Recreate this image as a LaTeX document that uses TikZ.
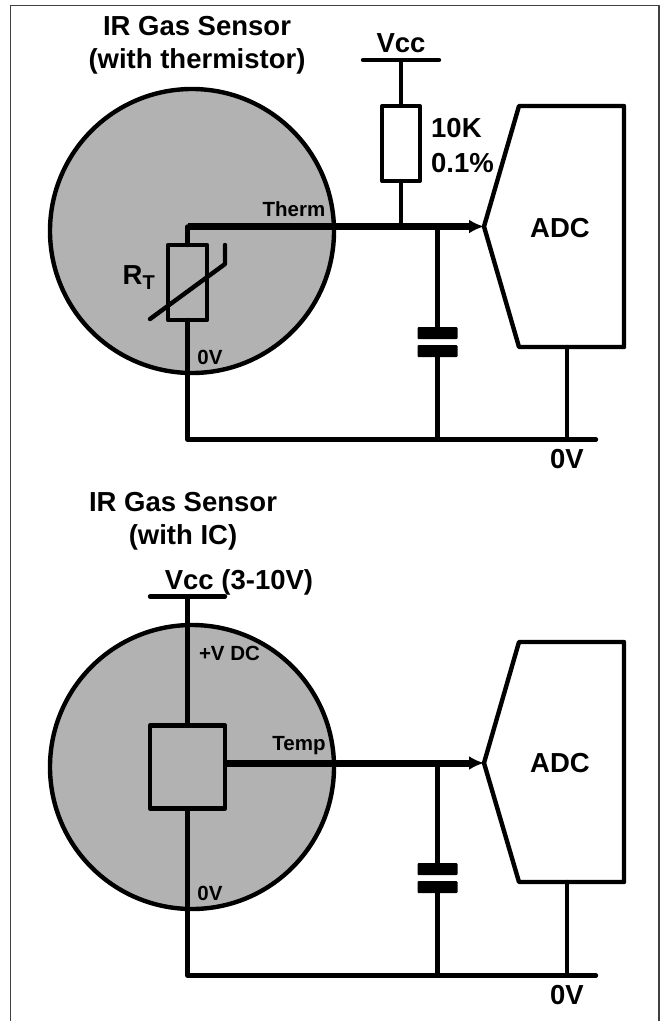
\documentclass[tikz,border=0pt]{standalone}
\usepackage{fontspec}
\setmainfont{Liberation Sans}
\usetikzlibrary{arrows.meta,positioning}

\definecolor{sensorgray}{HTML}{B2B2B2}

\begin{document}
\begin{tikzpicture}[x=1pt,y=-1pt,on grid,line width=4.4pt,line cap=round,line join=round,
    >={Latex[length=15pt,width=14pt]},
    sensor/.style={circle,draw,fill=sensorgray,minimum size=284pt,inner sep=0pt,outer sep=0pt},
    part/.style={rectangle,draw,inner sep=0pt,outer sep=0pt},
    plate/.style={rectangle,fill=black,rounded corners=1pt,minimum width=40pt,minimum height=12pt,inner sep=0pt,outer sep=0pt},
    big/.style={inner sep=0pt,font=\bfseries\fontsize{27.5}{33}\selectfont,align=center},
    small/.style={inner sep=0pt,font=\bfseries\fontsize{20.5}{24}\selectfont},
    signal/.style={line width=7pt,line cap=butt}]
  \useasboundingbox (0,0) rectangle (661,1021);

  \coordinate (frame_a) at (10.5,1021);
  \coordinate (frame_b) at (10.5,5.5);
  \coordinate (frame_c) at (659,5.5);
  \coordinate (frame_d) at (659,1021);
  \draw[line width=1.3pt,line cap=butt,color=black!75] (frame_a) -- (frame_b) -- (frame_c) -- (frame_d);

  \node[sensor] (S_1) at (192,231) {};
  \node[big] (title_1) at (197,45.5) {IR Gas Sensor\\(with thermistor)};
  \coordinate (vcc_1) at (401,60);
  \coordinate (vcc_1l) at (363,60);
  \coordinate (vcc_1r) at (439,60);
  \node[big] (vcclabel_1) at (401,43) {Vcc};
  \node[part,minimum width=37.5pt,minimum height=75pt] (R_1) at (401,143.5) {};
  \node[big,anchor=west] (ten_k) at (429,128) {10K};
  \node[big,anchor=west] (tol_k) at (429,163) {0.1\%};
  \node[part,minimum width=39pt,minimum height=75pt] (R_T) at (187.5,282.5) {};
  \coordinate (rt_a) at (150,319);
  \coordinate (rt_b) at (225,264);
  \coordinate (rt_c) at (225,245);
  \node[big,anchor=base east] (rtlabel) at (157,284.5) {R\raisebox{-5pt}{\fontsize{20}{20}\selectfont T}};
  \coordinate (adc_1a) at (519,106);
  \coordinate (adc_1b) at (624,106);
  \coordinate (adc_1c) at (624,347);
  \coordinate (adc_1d) at (519,347);
  \coordinate (tip_1) at (484,226.5);
  \node[big] (adclabel_1) at (560,228) {ADC};
  \node[small] (therm) at (294,209) {Therm};
  \node[small] (zero_1) at (210,357) {0V};
  \node[plate] (C_1a) at (437.5,333) {};
  \node[plate] (C_1b) [below=18pt of C_1a] {};
  \coordinate (rail_1l) at (187.5,439.5);
  \coordinate (rail_1r) at (596,439.5);
  \node[big] (gnd_1) at (567,459) {0V};

  \draw (vcc_1l) -- (vcc_1r);
  \draw (vcc_1) -- (R_1.north);
  \draw (R_1.south) -- (R_1 |- tip_1);
  \draw (R_T.north) -- (R_T |- tip_1);
  \draw (rt_a) -- (rt_b) -- (rt_c);
  \draw (adc_1a) -- (adc_1b) -- (adc_1c) -- (adc_1d) -- (tip_1) -- cycle;
  \draw[signal,->] (R_T |- tip_1) -- (tip_1);
  \draw (C_1a |- tip_1) -- (C_1a.north);
  \draw (C_1b.south) -- (C_1b |- rail_1l);
  \draw (R_T.south) -- (rail_1l) -- (rail_1r);
  \draw (gnd_1 |- adc_1c) -- (gnd_1 |- rail_1l);

  \node[sensor] (S_2) at (192,767) {};
  \node[big] (title_2) at (183,521.5) {IR Gas Sensor\\(with IC)};
  \coordinate (vcc_2) at (187.5,596.5);
  \coordinate (vcc_2l) at (150,596.5);
  \coordinate (vcc_2r) at (225,596.5);
  \node[big] (vcclabel_2) at (239,582) {Vcc (3-10V)};
  \node[part,minimum width=75pt,minimum height=83pt,fill=sensorgray] (IC) at (187.5,767) {};
  \coordinate (adc_2a) at (519,642);
  \coordinate (adc_2b) at (624,642);
  \coordinate (adc_2c) at (624,882);
  \coordinate (adc_2d) at (519,882);
  \coordinate (tip_2) at (484,763);
  \node[big] (adclabel_2) at (560,763.5) {ADC};
  \node[small] (temp) at (299,746) {Temp};
  \node[small] (plusv) at (229.5,653.5) {+V DC};
  \node[small] (zero_2) at (210,893) {0V};
  \node[plate] (C_2a) at (437.5,869) {};
  \node[plate] (C_2b) [below=18pt of C_2a] {};
  \coordinate (rail_2l) at (187.5,975.5);
  \coordinate (rail_2r) at (596,975.5);
  \node[big] (gnd_2) at (567,995.5) {0V};

  \draw (vcc_2l) -- (vcc_2r);
  \draw (vcc_2) -- (IC.north);
  \draw (adc_2a) -- (adc_2b) -- (adc_2c) -- (adc_2d) -- (tip_2) -- cycle;
  \draw[signal,->] (IC.east |- tip_2) -- (tip_2);
  \draw (C_2a |- tip_2) -- (C_2a.north);
  \draw (C_2b.south) -- (C_2b |- rail_2l);
  \draw (IC.south) -- (rail_2l) -- (rail_2r);
  \draw (gnd_2 |- adc_2c) -- (gnd_2 |- rail_2l);
\end{tikzpicture}
\end{document}
